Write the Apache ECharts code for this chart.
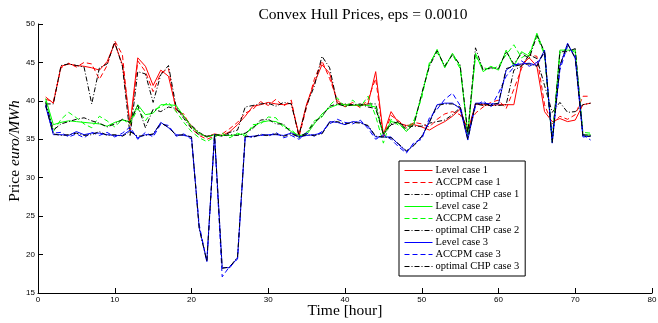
<!DOCTYPE html>
<html>
<head>
<meta charset="utf-8">
<script src="https://cdn.jsdelivr.net/npm/echarts@6/dist/echarts.min.js"></script>
<style>
  html, body { margin: 0; padding: 0; background: #fff; }
  #chart { width: 658px; height: 323px; }
</style>
</head>
<body>
<div id="chart"></div>
<script>
// hours 1..72
const hours = [1, 2, 3, 4, 5, 6, 7, 8, 9, 10, 11, 12, 13, 14, 15, 16, 17, 18, 19, 20, 21, 22, 23, 24,
  25, 26, 27, 28, 29, 30, 31, 32, 33, 34, 35, 36, 37, 38, 39, 40, 41, 42, 43, 44, 45, 46, 47, 48,
  49, 50, 51, 52, 53, 54, 55, 56, 57, 58, 59, 60, 61, 62, 63, 64, 65, 66, 67, 68, 69, 70, 71, 72];

const level1 = [40.5, 39.7, 44.5, 44.8, 44.6, 44.5, 44.3, 44.0, 45.1, 47.5, 44.7, 37.0, 45.6, 44.5, 42.0, 44.0, 43.2, 39.0, 38.0, 36.7, 35.8, 35.3, 35.7, 35.5,
  36.0, 36.9, 38.0, 39.3, 39.5, 39.8, 39.6, 39.5, 39.7, 35.6, 39.6, 42.3, 44.7, 43.6, 39.7, 39.5, 39.4, 39.4, 39.6, 43.8, 35.6, 38.6, 37.1, 36.8,
  36.9, 36.6, 36.2, 36.8, 37.3, 38.0, 38.9, 36.0, 39.6, 39.5, 39.4, 39.5, 39.5, 39.5, 44.7, 45.6, 44.5, 38.6, 37.3, 37.7, 37.3, 37.5, 39.5, 39.7];
const accpm1 = [40.2, 39.9, 44.3, 44.9, 44.4, 45.0, 44.8, 42.8, 44.6, 47.8, 46.0, 36.2, 45.2, 43.8, 41.2, 43.6, 44.2, 38.6, 38.3, 36.4, 35.5, 35.0, 35.4, 35.7,
  36.4, 37.2, 38.4, 38.9, 39.9, 39.4, 40.2, 39.3, 40.1, 35.3, 39.2, 42.8, 45.2, 42.9, 40.1, 39.2, 39.8, 39.1, 40.2, 42.9, 35.3, 38.1, 37.4, 36.5,
  37.2, 37.0, 36.6, 37.6, 38.3, 38.6, 38.2, 36.5, 38.4, 39.2, 39.8, 40.1, 39.0, 41.5, 44.2, 46.0, 45.8, 39.5, 37.0, 38.0, 37.6, 38.2, 40.6, 40.6];
const chp1 = [39.6, 39.6, 44.6, 44.8, 44.6, 44.4, 39.6, 44.3, 44.8, 47.6, 44.5, 35.5, 43.8, 43.5, 39.8, 43.4, 44.6, 39.2, 37.9, 36.8, 35.9, 35.3, 35.6, 35.4,
  35.9, 36.2, 39.2, 39.4, 39.6, 39.7, 39.3, 39.8, 39.6, 35.5, 39.4, 41.9, 45.8, 44.3, 39.6, 39.6, 39.5, 39.4, 39.6, 39.6, 35.6, 36.9, 37.1, 36.7,
  36.7, 36.7, 37.1, 37.3, 37.5, 38.2, 39.1, 35.6, 39.6, 39.4, 39.4, 39.4, 39.5, 44.0, 44.5, 46.0, 45.5, 42.0, 38.5, 39.8, 38.5, 38.6, 39.5, 39.7];

const level2 = [40.3, 36.9, 37.2, 37.4, 37.3, 37.2, 37.1, 37.0, 36.7, 37.2, 37.5, 37.3, 39.5, 38.2, 38.4, 39.5, 39.5, 39.4, 38.0, 36.6, 35.8, 35.3, 35.6, 35.5,
  35.5, 35.6, 35.7, 36.6, 37.2, 37.4, 37.3, 36.8, 36.0, 35.5, 35.6, 37.0, 38.3, 39.1, 39.5, 39.5, 39.4, 39.5, 39.4, 39.2, 35.6, 37.3, 37.1, 36.0,
  37.1, 40.8, 44.7, 46.7, 44.3, 46.2, 44.5, 35.6, 46.2, 43.8, 44.5, 44.0, 46.6, 44.5, 46.4, 45.8, 48.8, 46.2, 34.6, 46.6, 46.6, 46.6, 35.5, 35.6];
const accpm2 = [40.0, 36.0, 37.6, 38.5, 37.8, 37.0, 36.5, 38.0, 37.4, 36.6, 37.6, 37.0, 39.0, 37.4, 38.8, 39.2, 39.8, 38.6, 37.2, 36.0, 35.2, 34.7, 35.3, 35.8,
  35.2, 35.8, 35.4, 36.9, 37.0, 37.9, 37.8, 36.5, 36.3, 35.2, 35.9, 37.4, 37.9, 39.4, 40.4, 39.1, 40.1, 39.2, 40.6, 38.0, 34.5, 37.6, 36.8, 36.4,
  37.5, 40.4, 45.0, 46.3, 44.6, 46.0, 44.2, 36.0, 45.8, 44.3, 44.1, 44.5, 46.0, 47.3, 45.6, 46.2, 48.4, 46.0, 35.0, 46.2, 46.9, 46.3, 35.9, 35.8];
const chp2 = [39.8, 36.2, 37.0, 37.3, 37.6, 37.8, 37.4, 37.1, 36.6, 37.0, 37.6, 37.2, 39.4, 36.5, 38.9, 38.6, 39.2, 39.0, 37.7, 36.4, 35.6, 35.4, 35.6, 35.5,
  35.6, 35.5, 35.8, 36.4, 37.5, 37.6, 37.0, 37.0, 35.8, 35.4, 35.8, 37.2, 38.0, 39.3, 39.6, 39.3, 39.5, 39.6, 39.2, 39.0, 35.7, 37.0, 37.3, 36.2,
  36.9, 41.0, 44.5, 46.5, 44.5, 46.0, 44.7, 35.8, 46.9, 44.0, 44.3, 44.2, 46.4, 44.8, 46.2, 45.5, 48.5, 46.4, 34.8, 46.4, 46.4, 46.8, 35.6, 35.5];

const level3 = [39.3, 35.6, 35.6, 35.5, 36.0, 35.6, 35.8, 35.8, 35.6, 35.5, 35.5, 36.2, 35.2, 35.6, 35.6, 37.2, 36.5, 35.6, 35.5, 35.3, 23.5, 19.2, 35.6, 18.3,
  18.3, 19.6, 35.3, 35.4, 35.5, 35.6, 35.6, 35.5, 35.8, 35.3, 35.5, 35.6, 35.8, 37.3, 37.2, 36.9, 37.3, 37.2, 36.7, 35.3, 35.3, 35.3, 34.3, 33.4,
  34.3, 35.3, 37.3, 39.5, 39.7, 39.7, 39.0, 34.9, 39.7, 39.7, 39.6, 39.6, 44.0, 44.7, 44.8, 44.9, 44.6, 46.6, 34.5, 44.5, 47.5, 45.5, 35.3, 35.4];
const accpm3 = [39.5, 35.8, 35.9, 35.3, 35.7, 35.2, 35.9, 35.5, 35.9, 35.3, 35.8, 36.6, 35.0, 35.9, 35.3, 37.0, 36.8, 35.4, 35.7, 35.0, 23.9, 19.0, 35.4, 17.1,
  18.5, 19.4, 35.5, 35.2, 35.7, 35.4, 35.9, 35.2, 35.5, 35.0, 35.8, 35.4, 36.0, 37.0, 37.6, 37.2, 37.0, 37.5, 36.4, 35.0, 35.6, 35.0, 34.0, 33.2,
  34.6, 35.0, 37.8, 38.9, 40.2, 41.0, 39.4, 35.3, 39.3, 40.0, 39.2, 41.0, 43.2, 44.4, 45.2, 44.5, 45.0, 46.2, 35.0, 44.0, 47.2, 45.9, 35.6, 34.9];
const chp3 = [39.4, 35.7, 35.5, 35.6, 35.8, 35.5, 35.6, 36.0, 35.5, 35.6, 35.4, 36.0, 35.4, 35.5, 35.7, 37.1, 36.6, 35.5, 35.6, 35.3, 23.4, 19.1, 35.6, 18.2,
  18.4, 19.7, 35.4, 35.3, 35.6, 35.5, 35.7, 35.4, 35.7, 35.3, 35.6, 35.5, 35.7, 37.2, 37.3, 37.0, 37.2, 37.1, 36.8, 35.4, 35.3, 35.2, 34.4, 33.5,
  34.2, 35.4, 37.2, 39.4, 39.6, 39.6, 39.2, 35.0, 39.6, 39.6, 39.5, 39.7, 44.2, 44.5, 44.7, 44.8, 44.5, 46.5, 34.6, 44.6, 47.4, 45.6, 35.4, 35.4];

const serif = "'Liberation Serif', 'DejaVu Serif', serif";
const sans = "'Liberation Sans', Arial, sans-serif";

const dashed = [5, 3];
const dashDot = [5, 2, 1, 2];

// legend order = draw order
const lines = [
  { name: "Level case 1", values: level1, color: "#ff0000", type: "solid" },
  { name: "ACCPM case 1", values: accpm1, color: "#ff0000", type: dashed },
  { name: "optimal CHP case 1", values: chp1, color: "#000000", type: dashDot },
  { name: "Level case 2", values: level2, color: "#00ff00", type: "solid" },
  { name: "ACCPM case 2", values: accpm2, color: "#00ff00", type: dashed },
  { name: "optimal CHP case 2", values: chp2, color: "#000000", type: dashDot },
  { name: "Level case 3", values: level3, color: "#0000ff", type: "solid" },
  { name: "ACCPM case 3", values: accpm3, color: "#0000ff", type: dashed },
  { name: "optimal CHP case 3", values: chp3, color: "#000000", type: dashDot }
];

const chart = echarts.init(document.getElementById("chart"), null, { renderer: "canvas" });

const option = {
  animation: false,
  backgroundColor: "#fff",
  title: {
    text: "Convex Hull Prices, eps = 0.0010",
    left: 358,
    textAlign: "center",
    top: 2,
    textStyle: { fontFamily: serif, fontSize: 15.5, fontWeight: "normal", color: "#000" }
  },
  grid: { left: 38, right: 6, top: 24, bottom: 30, outerBoundsMode: "none" },
  legend: {
    orient: "vertical",
    left: 399,
    top: 161,
    itemWidth: 28,
    itemHeight: 11,
    itemGap: 1,
    padding: [4, 6, 4, 5],
    borderColor: "#000",
    borderWidth: 1,
    backgroundColor: "#fff",
    itemStyle: { opacity: 0 },
    textStyle: { fontFamily: serif, fontSize: 10.5, color: "#000", padding: [0, 0, 0, -2] },
    data: lines.map(l => ({
      name: l.name,
      itemStyle: { opacity: 0 },
      lineStyle: { color: l.color, width: 1, type: l.type }
    }))
  },
  xAxis: {
    type: "value",
    min: 0,
    max: 80,
    interval: 10,
    name: "Time [hour]",
    nameLocation: "middle",
    nameGap: 10,
    nameMoveOverlap: false,
    nameTextStyle: { fontFamily: serif, fontSize: 15.5, color: "#000" },
    axisLine: { lineStyle: { color: "#000", width: 1 } },
    axisTick: { inside: true, length: 5, lineStyle: { color: "#000" } },
    axisLabel: { fontFamily: sans, fontSize: 8, color: "#000", margin: 3 },
    splitLine: { show: false }
  },
  yAxis: {
    type: "value",
    min: 15,
    max: 50,
    interval: 5,
    name: "Price {i|euro/MWh}",
    nameLocation: "middle",
    nameGap: 15,
    nameRotate: 90,
    nameMoveOverlap: false,
    nameTextStyle: {
      fontFamily: serif, fontSize: 15.5, color: "#000",
      padding: [0, 0, 0, 15],
      rich: { i: { fontFamily: serif, fontSize: 15.5, fontStyle: "italic", color: "#000" } }
    },
    axisLine: { show: true, lineStyle: { color: "#000", width: 1 } },
    axisTick: { show: true, inside: true, length: 5, lineStyle: { color: "#000" } },
    axisLabel: { fontFamily: sans, fontSize: 8, color: "#000", margin: 3 },
    splitLine: { show: false }
  },
  series: lines.map(l => ({
    name: l.name,
    type: "line",
    data: hours.map((h, i) => [h, l.values[i]]),
    symbol: "none",
    lineStyle: { color: l.color, width: 1, type: l.type },
    itemStyle: { color: l.color },
    emphasis: { disabled: true }
  }))
};

chart.setOption(option);
</script>
</body>
</html>
